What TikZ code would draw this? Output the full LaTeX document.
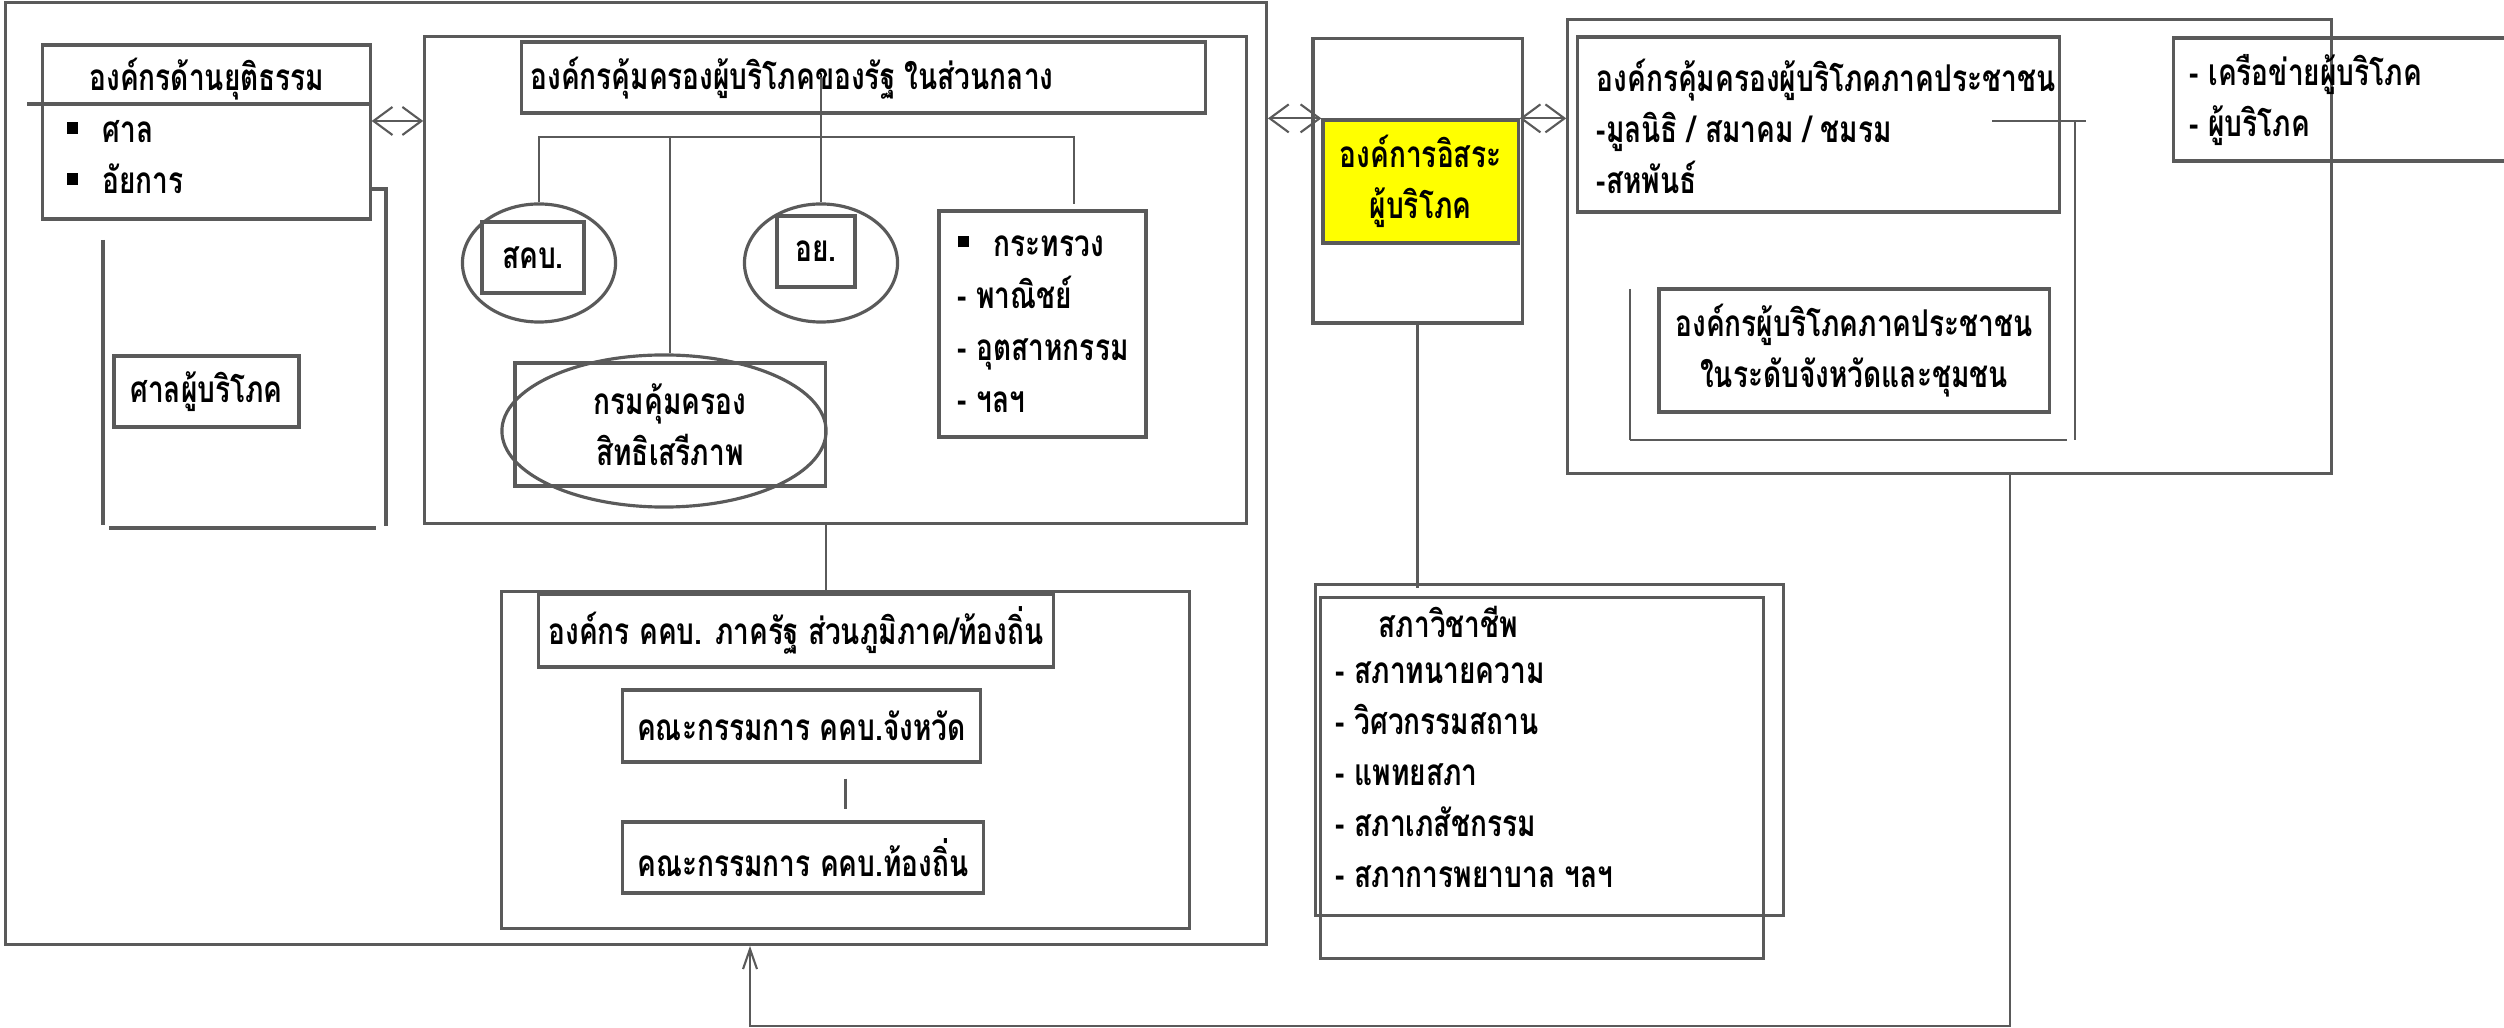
\documentclass[tikz,border=0pt]{standalone}
\usepackage{fontspec}
\newfontfamily\thaifont[Script=Thai, FakeStretch=0.76]{Loma}
\usetikzlibrary{arrows.meta, positioning, shapes.geometric}
\definecolor{linegray}{HTML}{5A5A5A}
\definecolor{orgyellow}{HTML}{FFFF00}
\newcommand{\sqmark}{\rule[2.5pt]{3.2pt}{3.2pt}}

\begin{document}
\begin{tikzpicture}[x=0.01cm, y=-0.01cm,
    box/.style={draw=linegray, line width=0.9pt, inner sep=0pt},
    link/.style={draw=linegray, line width=0.6pt},
    both/.style={link, {Straight Barb[length=0.19cm,width=0.28cm]}-{Straight Barb[length=0.19cm,width=0.28cm]}},
    lbl/.style={inner sep=0pt, font=\thaifont\bfseries\fontsize{10.5}{14.5}\selectfont}]
\path[use as bounding box] (0,0) rectangle (2504,1028);
\clip (0,0) rectangle (2504,1028);

% state side
\node[box, minimum width=12.6cm, minimum height=9.41cm] (stateOuter) at (636,473.5) {};
\node[box, minimum width=3.27cm, minimum height=1.74cm] (justice) at (206.5,132) {};
\node[lbl] (justiceT) at (207,79) {องค์กรด้านยุติธรรม};
\node[lbl, align=left, anchor=west] (justiceL) at (66,157) {\sqmark\hspace{7pt}ศาล\\\sqmark\hspace{7pt}อัยการ};
\draw[box] (27,104) -- (justice.east |- 0,104);
\node[box, lbl, minimum width=1.85cm, minimum height=0.71cm] (court) at (206.5,391.5) {ศาลผู้บริโภค};
\draw[box] (103,240) -- (103,525);
\draw[box] (109,528) -- (376,528);
\draw[box] (justice.east |- 0,189) -- (388,189);
\draw[box] (386,189) -- (386,526);

\node[box, minimum width=8.21cm, minimum height=4.86cm] (central) at (835.5,280) {};
\node[box, minimum width=6.83cm, minimum height=0.71cm] (cTitle) at (863.5,77.5) {};
\node[lbl] (cTitleT) at (792,78) {องค์กรคุ้มครองผู้บริโภคของรัฐ ในส่วนกลาง};
\node[box, ellipse, minimum width=1.53cm, minimum height=1.18cm] (skbC) at (539,263) {};
\node[box, lbl, minimum width=1.02cm, minimum height=0.71cm] (skb) at (533,257.5) {สคบ.};
\node[box, ellipse, minimum width=1.53cm, minimum height=1.18cm] (ayC) at (821,263) {};
\node[box, lbl, minimum width=0.78cm, minimum height=0.71cm] (ay) at (816,251.5) {อย.};
\node[box, minimum width=2.07cm, minimum height=2.26cm] (minBox) at (1042.5,324) {};
\node[lbl, align=left, anchor=west, font=\thaifont\bfseries\fontsize{10.5}{14.8}\selectfont] (minT) at (957,324)
  {\sqmark\hspace{7pt}กระทรวง\\- พาณิชย์\\- อุตสาหกรรม\\- ฯลฯ};
\node[box, lbl, align=center, minimum width=3.10cm, minimum height=1.23cm] (dept) at (670,424.5) {กรมคุ้มครอง\\สิทธิเสรีภาพ};
\node[box, ellipse, minimum width=3.24cm, minimum height=1.52cm] (deptE) at (664,431) {};
\coordinate (bar) at (0,137);
\coordinate (minTop) at (1074,204);
\draw[link] (ayC.north |- cTitle.center) -- (ayC.north);
\draw[link] (skbC.north) |- (bar -| minTop) -- (minTop);
\draw[link] (dept.north |- bar) -- (dept.north |- deptE.north);
\draw[both] ([yshift=0.11cm]justice.east) -- ([yshift=0.11cm]justice.east -| central.west);

\node[box, minimum width=6.87cm, minimum height=3.36cm] (regional) at (845.5,760) {};
\node[box, lbl, minimum width=5.14cm, minimum height=0.73cm] (rTitle) at (796,630.5) {องค์กร คคบ. ภาครัฐ ส่วนภูมิภาค/ท้องถิ่น};
\node[box, lbl, minimum width=3.57cm, minimum height=0.72cm] (prov) at (801.5,726) {คณะกรรมการ คคบ.จังหวัด};
\node[box, lbl, minimum width=3.60cm, minimum height=0.71cm] (local) at (803,857.5) {คณะกรรมการ คคบ.ท้องถิ่น};
\draw[link] ([xshift=-0.095cm]central.south) -- ([xshift=-0.095cm]central.south |- regional.north);
\draw[link] ([xshift=0.44cm, yshift=-0.15cm]prov.south) -- ([xshift=0.44cm]prov.south |- 0,809);

% independent body
\node[box, minimum width=2.09cm, minimum height=2.84cm] (indep) at (1417.5,181) {};
\node[box, lbl, fill=orgyellow, align=center, minimum width=1.95cm, minimum height=1.23cm] (yellow) at (1420.5,181.5) {องค์การอิสระ\\ผู้บริโภค};
\draw[both] (yellow.north west -| stateOuter.east) -- (yellow.north west);

\node[box, minimum width=4.67cm, minimum height=3.30cm] (profA) at (1549.5,750) {};
\node[box, minimum width=4.42cm, minimum height=3.60cm] (profB) at (1542,778) {};
\node[lbl, anchor=west] (profT) at (1378,622) {สภาวิชาชีพ};
\node[lbl, align=left, anchor=west] (profL) at (1335,775)
  {- สภาทนายความ\\- วิศวกรรมสถาน\\- แพทยสภา\\- สภาเภสัชกรรม\\- สภาการพยาบาล ฯลฯ};
\draw[link] (indep.south) -- ([yshift=-0.05cm]indep.south |- profA.north);

% people side
\node[box, minimum width=7.63cm, minimum height=4.53cm] (peopleOuter) at (1949.5,246.5) {};
\node[box, minimum width=4.81cm, minimum height=1.75cm] (people) at (1818.5,124.5) {};
\node[lbl, align=left, anchor=west] (peopleT) at (1596,126)
  {องค์กรคุ้มครองผู้บริโภคภาคประชาชน\\-มูลนิธิ / สมาคม / ชมรม\\-สหพันธ์};
\node[box, lbl, align=center, minimum width=3.90cm, minimum height=1.23cm] (provPeople) at (1854,350.5) {องค์กรผู้บริโภคภาคประชาชน\\ในระดับจังหวัดและชุมชน};
\node[box, minimum width=3.70cm, minimum height=1.23cm, anchor=west] (network) at (2172,99.5) {};
\node[lbl, align=left, anchor=west] (networkT) at (2189,100) {- เครือข่ายผู้บริโภค\\- ผู้บริโภค};
\draw[both] (yellow.north east) -- (yellow.north east -| peopleOuter.west);
\draw[link] (1992,121) -- (2086,121);
\draw[link] (2075,121) -- (2075,440);
\draw[link] (1630,440) -- (2067,440);
\draw[link] (1630,289) -- (1630,440);

% feedback loop
\coordinate (loopL) at (750,1026);
\draw[link, -{Straight Barb[length=0.2cm,width=0.14cm]}] ([xshift=0.605cm]peopleOuter.south) |- (loopL) -- (loopL |- stateOuter.south);
\end{tikzpicture}
\end{document}
